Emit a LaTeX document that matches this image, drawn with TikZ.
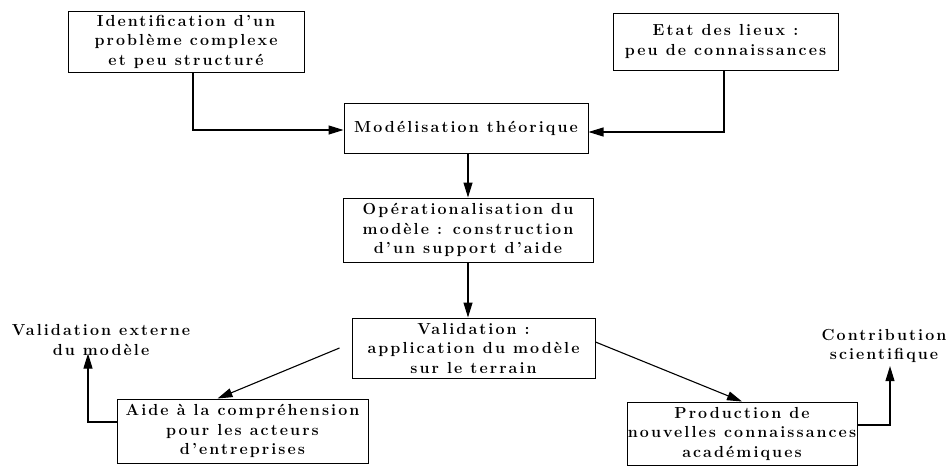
\documentclass[tikz,border=0pt]{standalone}
\usepackage{fontspec}
\setmainfont{Latin Modern Roman}[LetterSpace=13]
\usetikzlibrary{arrows.meta}
\begin{document}
\begin{tikzpicture}[x=1pt,y=-1pt,
  every node/.style={font=\fontsize{16}{19.5}\selectfont\bfseries, align=center, inner sep=0pt},
  box/.style={draw, line width=1pt},
  conn/.style={line width=1.1pt, -{Triangle[length=15pt,width=9pt]}}]
\useasboundingbox (0,0) rectangle (951,466);
\node[box, minimum width=236pt, minimum height=61pt] (b1) at (186,41.5)
  {Identification d'un\\problème complexe\\et peu structuré};
\node[box, minimum width=225pt, minimum height=57pt] (b2) at (725.5,41.5)
  {Etat des lieux :\\peu de connaissances};
\node[box, minimum width=244pt, minimum height=50pt] (b3) at (466,128)
  {Modélisation théorique};
\node[box, minimum width=250pt, minimum height=64pt] (b4) at (468,230)
  {Opérationalisation du\\modèle : construction\\d'un support d'aide};
\node[box, minimum width=243pt, minimum height=60pt] (b5) at (473.5,348)
  {Validation :\\application du modèle\\sur le terrain};
\node[box, minimum width=251pt, minimum height=64pt] (b6) at (242.5,431)
  {Aide à la compréhension\\pour les acteurs\\d'entreprises};
\node[box, minimum width=230pt, minimum height=63pt] (b7) at (742,433.5)
  {Production de\\nouvelles connaissances\\académiques};
\node (l1) at (101,340) {Validation externe\\du modèle};
\node (l2) at (884,346) {Contribution\\scientifique};

\draw[conn] ([xshift=7pt]b1.south) |- ([yshift=-2pt]b3.west);
\draw[conn] ([xshift=-1.5pt]b2.south) |- ([yshift=-4pt]b3.east);
\draw[conn] (b3.south -| b4.north) -- (b4.north);
\draw[conn] (b4.south) -- (b4.south |- b5.north);
\draw[conn] ([xshift=-12pt]b5.west) -- ([xshift=-25pt]b6.north);
\draw[conn] ([yshift=6pt]b5.east) -- (b7.north);
\draw[conn] ([yshift=9pt]b6.west) -| ([xshift=-13pt,yshift=2pt]l1.south);
\draw[conn] ([yshift=8.5pt]b7.east) -| ([xshift=6pt,yshift=-3pt]l2.south);
\end{tikzpicture}
\end{document}
